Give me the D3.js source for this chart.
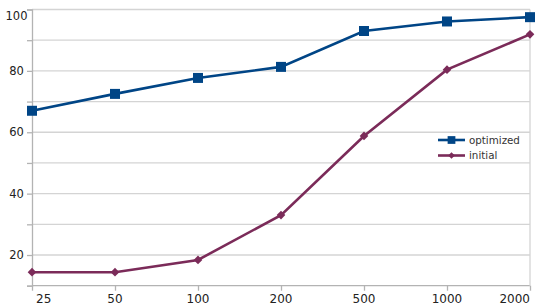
<!DOCTYPE html>
<html>
<head>
<meta charset="utf-8">
<script src="https://cdn.jsdelivr.net/npm/d3@7"></script>
<style>
  body { margin: 0; background: #fff; }
  svg { display: block; font-family: "DejaVu Sans", sans-serif; }
</style>
</head>
<body>
<div id="chart"></div>
<script>
// data
var categories = ["25", "50", "100", "200", "500", "1000", "2000"];
var optimized = [67, 72.5, 77.7, 81.3, 93, 96.1, 97.5];
var initial = [14.4, 14.4, 18.4, 33, 58.8, 80.4, 91.9];
var yTicks = [20, 40, 60, 80, 100];
var yGrid = [10, 20, 30, 40, 50, 60, 70, 80, 90, 100];

var w = 540, h = 305;
var plotLeft = 32, plotRight = 530, plotTop = 9.5, plotBottom = 285.7;

var svg = d3.select("#chart").append("svg")
  .attr("width", w)
  .attr("height", h);

var x = d3.scalePoint()
  .domain(categories)
  .range([plotLeft, plotRight]);

var y = d3.scaleLinear()
  .domain([10, 100])
  .range([plotBottom, plotTop]);

// grid
svg.append("g").selectAll("line")
  .data(yGrid)
  .enter().append("line")
  .attr("x1", plotLeft).attr("x2", plotRight)
  .attr("y1", function(d) { return y(d); })
  .attr("y2", function(d) { return y(d); })
  .attr("stroke", function(d) { return d == 10 ? "#b3b3b3" : "#d4d4d4"; })
  .attr("stroke-width", 1.3);

// right border
svg.append("line")
  .attr("x1", plotRight).attr("x2", plotRight)
  .attr("y1", plotTop).attr("y2", plotBottom)
  .attr("stroke", "#d4d4d4").attr("stroke-width", 1.3);

// y axis
var yAxis = svg.append("g")
  .attr("transform", "translate(" + plotLeft + ",0)")
  .call(d3.axisLeft(y).tickValues(yGrid).tickSize(5).tickFormat(""));
yAxis.select(".domain").attr("stroke", "#b3b3b3").attr("stroke-width", 1.3);
yAxis.selectAll(".tick line").attr("stroke", "#b3b3b3").attr("stroke-width", 1.3);

svg.append("g").selectAll("text")
  .data(yTicks)
  .enter().append("text")
  .attr("x", 16.5)
  .attr("y", function(d) { return Math.max(y(d), 16); })
  .attr("dy", "0.36em")
  .attr("text-anchor", "middle")
  .attr("font-size", 11.5)
  .attr("fill", "#222")
  .text(function(d) { return d; });

// x axis
var xAxis = svg.append("g")
  .attr("transform", "translate(0," + plotBottom + ")")
  .call(d3.axisBottom(x).tickSize(5).tickFormat(""));
xAxis.select(".domain").remove();
xAxis.selectAll(".tick line").attr("stroke", "#b3b3b3").attr("stroke-width", 1.3);

svg.append("g").selectAll("text")
  .data(categories)
  .enter().append("text")
  .attr("x", function(d, i) {
    if (i == 0) return x(d) + 4;
    return x(d);
  })
  .attr("y", 303)
  .attr("text-anchor", function(d, i) {
    if (i == 0) return "start";
    if (i == categories.length - 1) return "end";
    return "middle";
  })
  .attr("font-size", 12)
  .attr("fill", "#222")
  .text(function(d) { return d; });

// series
var series = [
  { name: "optimized", values: optimized, color: "#004586", marker: d3.symbolSquare, size: 100 },
  { name: "initial", values: initial, color: "#7b2b59", marker: d3.symbolDiamond2, size: 48 }
];

var line = d3.line()
  .x(function(d, i) { return x(categories[i]); })
  .y(function(d) { return y(d); });

series.forEach(function(s) {
  svg.append("path")
    .datum(s.values)
    .attr("d", line)
    .attr("fill", "none")
    .attr("stroke", s.color)
    .attr("stroke-width", 2.6);

  svg.append("g").selectAll("path")
    .data(s.values)
    .enter().append("path")
    .attr("d", d3.symbol().type(s.marker).size(s.size))
    .attr("transform", function(d, i) {
      return "translate(" + x(categories[i]) + "," + y(d) + ")";
    })
    .attr("fill", s.color);
});

// legend
var legend = svg.append("g").selectAll("g")
  .data(series)
  .enter().append("g")
  .attr("transform", function(d, i) { return "translate(438," + (140 + i * 15.5) + ")"; });

legend.append("line")
  .attr("x1", 0).attr("x2", 27)
  .attr("stroke", function(d) { return d.color; })
  .attr("stroke-width", 2.6);

legend.append("path")
  .attr("d", function(d) { return d3.symbol().type(d.marker).size(d.size * 0.6)(); })
  .attr("transform", "translate(13.5,0)")
  .attr("fill", function(d) { return d.color; });

legend.append("text")
  .attr("x", 31)
  .attr("dy", "0.35em")
  .attr("font-size", 10.3)
  .attr("fill", "#333")
  .text(function(d) { return d.name; });
</script>
</body>
</html>
